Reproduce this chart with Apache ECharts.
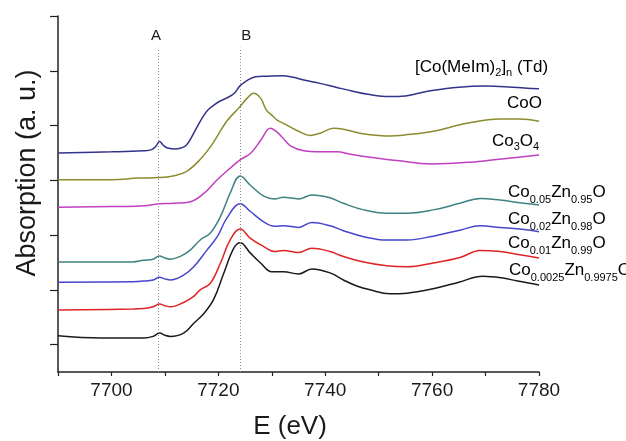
<!DOCTYPE html>
<html>
<head>
    <meta charset="utf-8">
    <title>Co K-edge XANES</title>
    <script src="https://cdn.jsdelivr.net/npm/echarts@6/dist/echarts.min.js"></script>
</head>
<body style="margin:0">
<div id="main" style="width: 626px;height:441px;"></div>
<script type="text/javascript">
    // energy (eV) / absorption (stacked, a.u.) for each spectrum
    var eMeIm = [7690, 7700, 7706, 7707.5, 7708.3, 7709, 7709.7, 7710.5, 7712, 7713, 7714, 7715, 7716, 7717, 7718, 7719, 7720, 7721.5, 7723, 7724, 7725.5, 7727, 7729, 7732, 7734, 7736, 7739, 7742, 7745, 7748, 7752, 7755, 7757, 7760, 7765, 7770, 7775, 7780];
    var aMeIm = [4.00, 4.02, 4.04, 4.06, 4.12, 4.21, 4.14, 4.09, 4.07, 4.09, 4.14, 4.29, 4.47, 4.64, 4.78, 4.86, 4.93, 5.00, 5.09, 5.22, 5.33, 5.39, 5.40, 5.41, 5.38, 5.33, 5.27, 5.20, 5.13, 5.07, 5.03, 5.04, 5.08, 5.14, 5.20, 5.22, 5.20, 5.17];

    var eCoO = [7690, 7700, 7705, 7709, 7711.5, 7714, 7716.5, 7719, 7721.5, 7724, 7725.4, 7726.6, 7727.9, 7729, 7730, 7731, 7732.2, 7734.7, 7737.2, 7739, 7741.6, 7744, 7747, 7751.5, 7755, 7760, 7766.5, 7772.7, 7776.4, 7780];
    var aCoO = [3.51, 3.51, 3.54, 3.55, 3.58, 3.66, 3.87, 4.18, 4.57, 4.84, 5.00, 5.09, 5.00, 4.78, 4.69, 4.60, 4.54, 4.41, 4.32, 4.36, 4.45, 4.42, 4.35, 4.31, 4.33, 4.39, 4.54, 4.62, 4.62, 4.58];

    var eCo3O4 = [7690, 7700, 7705.4, 7709, 7711.6, 7714.8, 7717.3, 7719.8, 7722.2, 7724, 7726, 7728, 7729.7, 7731, 7732, 7733.5, 7736, 7739, 7742, 7745, 7748.4, 7753.4, 7760, 7767, 7773, 7780];
    var aCo3O4 = [3.01, 3.02, 3.03, 3.07, 3.08, 3.11, 3.26, 3.51, 3.72, 3.87, 3.99, 4.24, 4.45, 4.38, 4.28, 4.13, 4.04, 4.02, 4.02, 3.97, 3.92, 3.86, 3.80, 3.83, 3.89, 3.96];

    var eZn95 = [7690, 7704, 7706, 7707.8, 7709, 7710, 7711, 7712.9, 7714.8, 7716.6, 7718.5, 7720.4, 7722.2, 7724.1, 7726, 7728.5, 7730.5, 7732.2, 7735, 7737.5, 7740.9, 7743.4, 7747.2, 7751.5, 7755.3, 7760.2, 7765.2, 7769, 7772.7, 7776.4, 7780];
    var aZn95 = [2.01, 2.01, 2.04, 2.06, 2.12, 2.08, 2.06, 2.11, 2.23, 2.41, 2.54, 2.84, 3.26, 3.58, 3.41, 3.21, 3.16, 3.19, 3.16, 3.23, 3.18, 3.08, 2.96, 2.90, 2.90, 2.96, 3.08, 3.17, 3.14, 3.09, 3.05];

    var eZn98 = [7690, 7704, 7706, 7707.8, 7709, 7710, 7711, 7713.5, 7715.4, 7717.9, 7719.8, 7721.6, 7724.1, 7726, 7728.5, 7730.5, 7732.2, 7735, 7737.5, 7740.9, 7743.4, 7747.2, 7751.5, 7755.3, 7760.2, 7765.2, 7769, 7772.7, 7776.4, 7780];
    var aZn98 = [1.64, 1.65, 1.66, 1.68, 1.73, 1.70, 1.68, 1.77, 1.92, 2.23, 2.47, 2.81, 3.07, 2.93, 2.74, 2.66, 2.67, 2.64, 2.73, 2.67, 2.58, 2.47, 2.41, 2.41, 2.48, 2.59, 2.67, 2.64, 2.61, 2.56];

    var eZn99 = [7690, 7704, 7706, 7707.8, 7709, 7710, 7711, 7713.5, 7715.4, 7716.6, 7718.5, 7720.4, 7722.2, 7724.1, 7726, 7728.5, 7730.5, 7732.2, 7735, 7737.5, 7740.9, 7743.4, 7747.2, 7751.5, 7755.3, 7760.2, 7765.2, 7769, 7772.7, 7776.4, 7780];
    var aZn99 = [1.13, 1.15, 1.16, 1.19, 1.24, 1.21, 1.19, 1.27, 1.38, 1.50, 1.62, 1.99, 2.41, 2.61, 2.44, 2.29, 2.20, 2.22, 2.18, 2.26, 2.20, 2.11, 2.01, 1.94, 1.92, 1.99, 2.09, 2.22, 2.20, 2.14, 2.08];

    var eZn9975 = [7690, 7698, 7706, 7707.8, 7709, 7710, 7711, 7713.5, 7715.4, 7717.3, 7719.1, 7721, 7722.9, 7724.1, 7726, 7727.9, 7730, 7732.2, 7735, 7737.5, 7740.9, 7743.4, 7745.9, 7748.4, 7752.1, 7755.3, 7760.2, 7765, 7769.5, 7773, 7776, 7780];
    var aZn9975 = [0.66, 0.62, 0.62, 0.65, 0.71, 0.67, 0.65, 0.71, 0.89, 1.07, 1.32, 1.80, 2.26, 2.36, 2.17, 1.99, 1.83, 1.83, 1.79, 1.88, 1.81, 1.68, 1.57, 1.50, 1.43, 1.44, 1.52, 1.64, 1.75, 1.72, 1.66, 1.59];

    // features A (pre-edge) and B (white line)
    var featureNames = ['A', 'B'];
    var featureE = [7708.7, 7724.1];

    var xTicks = [7690, 7780, 10];
    var yTickValues = [0.5, 1.5, 2.5, 3.5, 4.5, 5.5, 6.5];

    var FONT = 'Liberation Sans, Arial, sans-serif';
    var INK = '#1a1a1a';

    function pairs(e, a) {
        var out = [];
        for (var i = 0; i < e.length; i++) out.push([e[i], a[i]]);
        return out;
    }

    function curve(name, e, a, color) {
        return {
            name: name,
            type: 'line',
            smooth: 0.4,
            symbol: 'none',
            lineStyle: {color: color, width: 1.5},
            data: pairs(e, a)
        };
    }

    // curve labels, subscripts pushed down by bottom-aligning them in a taller line
    var rich = {
        m: {fontSize: 17, lineHeight: 17, verticalAlign: 'top', fontFamily: FONT, color: INK},
        s: {fontSize: 11, lineHeight: 21, verticalAlign: 'bottom', fontFamily: FONT, color: INK},
        t: {fontSize: 11, lineHeight: 19, verticalAlign: 'bottom', fontFamily: FONT, color: INK}
    };
    function label(x, y, text) {
        return {
            type: 'text', x: x, y: y,
            style: {text: text, rich: rich, verticalAlign: 'top', align: 'left'}
        };
    }

    var series = [
        curve('[Co(MeIm)2]n (Td)', eMeIm, aMeIm, '#33338c'),
        curve('CoO', eCoO, aCoO, '#8c8c2e'),
        curve('Co3O4', eCo3O4, aCo3O4, '#c040c0'),
        curve('Co0.05Zn0.95O', eZn95, aZn95, '#3f8282'),
        curve('Co0.02Zn0.98O', eZn98, aZn98, '#4646cc'),
        curve('Co0.01Zn0.99O', eZn99, aZn99, '#e02424'),
        curve('Co0.0025Zn0.9975O', eZn9975, aZn9975, '#1a1a1a')
    ];

    var markData = [];
    for (var k = 0; k < featureE.length; k++) {
        markData.push([
            {coord: [featureE[k], 0], label: {formatter: featureNames[k], offset: [k === 1 ? 6 : -2, 0]}},
            {coord: [featureE[k], 5.92]}
        ]);
    }
    series[0].markLine = {
        silent: true,
        symbol: 'none',
        lineStyle: {color: '#8a8a8a', type: [1, 2], width: 1},
        label: {show: true, position: 'end', fontSize: 15, fontFamily: FONT, color: INK, distance: 4},
        data: markData
    };
    series[0].z = 3;

    var option = {
        animation: false,
        backgroundColor: '#fff',
        grid: {left: 58, right: 87, top: 16, bottom: 69, outerBoundsMode: 'none'},
        xAxis: {
            type: 'value',
            min: xTicks[0],
            max: xTicks[1],
            interval: xTicks[2],
            axisLine: {onZero: false, lineStyle: {color: '#222', width: 1.5}},
            axisTick: {length: 4, lineStyle: {color: '#222', width: 1.2}},
            axisLabel: {
                fontSize: 19, fontFamily: FONT, color: INK, margin: 9,
                formatter: function (v) { return v % 20 === 0 ? String(v) : ''; }
            },
            splitLine: {show: false}
        },
        yAxis: {
            type: 'value',
            min: 0,
            max: 6.5,
            axisLine: {show: true, lineStyle: {color: '#222', width: 1.5}},
            axisTick: {show: true, length: 8, customValues: yTickValues, lineStyle: {color: '#222', width: 1.2}},
            axisLabel: {show: false},
            splitLine: {show: false}
        },
        graphic: [
            {
                type: 'text', x: 28, y: 173, rotation: Math.PI / 2,
                style: {text: 'Absorption (a. u.)', fontSize: 27, fontFamily: FONT, fill: INK, align: 'center', verticalAlign: 'middle'}
            },
            {
                type: 'text', x: 290, y: 427,
                style: {text: 'E (eV)', fontSize: 26, fontFamily: FONT, fill: INK, align: 'center', verticalAlign: 'middle'}
            },
            label(415, 59, '{m|[Co(MeIm)}{t|2}{m|]}{t|n}{m| (Td)}'),
            label(507, 95, '{m|CoO}'),
            label(492, 133, '{m|Co}{t|3}{m|O}{t|4}'),
            label(508, 184, '{m|Co}{s|0.05}{m|Zn}{s|0.95}{m|O}'),
            label(508, 211, '{m|Co}{s|0.02}{m|Zn}{s|0.98}{m|O}'),
            label(508, 235, '{m|Co}{s|0.01}{m|Zn}{s|0.99}{m|O}'),
            label(509, 262, '{m|Co}{s|0.0025}{m|Zn}{s|0.9975}{m|O}')
        ],
        series: series
    };

    var myChart = echarts.init(document.getElementById('main'));
    myChart.setOption(option);
</script>
</body>
</html>
